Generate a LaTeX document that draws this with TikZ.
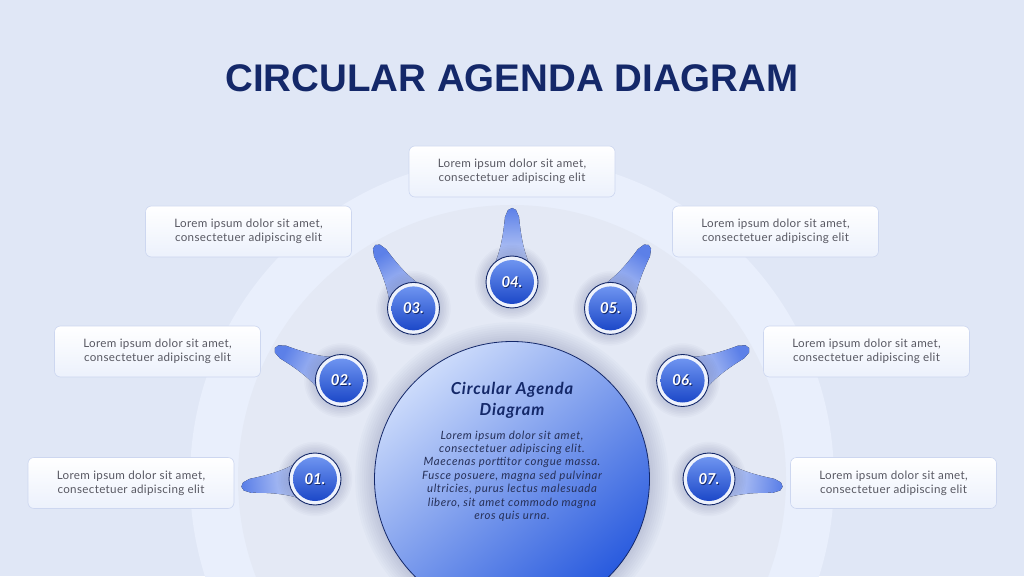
\documentclass[tikz,border=0pt]{standalone}
\usepackage{fontspec}
\setmainfont{Lato}
\newfontfamily\boxfont{Lato}[LetterSpace=3]
\newfontfamily\hubfont{Lato}[LetterSpace=5]
\newfontfamily\titlefont{Liberation Sans}
\usetikzlibrary{positioning}

% colours
\definecolor{pagebg}{RGB}{224,231,246}
\definecolor{bandbg}{RGB}{233,239,252}
\definecolor{innerbg}{RGB}{228,233,245}
\definecolor{navy}{RGB}{20,40,105}
\definecolor{bodygray}{RGB}{88,88,98}
\definecolor{centertext}{RGB}{38,48,88}
\definecolor{boxline}{RGB}{205,215,240}
\definecolor{boxlow}{RGB}{236,241,252}
\definecolor{circlight}{RGB}{204,219,251}
\definecolor{circdeep}{RGB}{40,90,222}
\definecolor{disctop}{RGB}{110,148,240}
\definecolor{disclow}{RGB}{28,72,200}
\definecolor{ringfill}{RGB}{238,242,252}
\definecolor{funblue}{RGB}{92,128,232}
\definecolor{funpale}{RGB}{234,239,252}

\tikzset{
  infobox/.style={draw=boxline, line width=0.6pt, rounded corners=6pt,
    top color=white, bottom color=boxlow, minimum width=206pt,
    minimum height=51pt, inner sep=0pt, align=center, text=bodygray,
    font=\boxfont\fontsize{11.6}{13.8}\selectfont},
  numring/.style={circle, draw=navy, line width=0.9pt, fill=ringfill,
    minimum size=52pt, inner sep=0pt},
  numdisc/.style={circle, top color=disctop, bottom color=disclow,
    minimum size=44pt, inner sep=0pt},
  numtext/.style={font=\fontsize{15}{15}\selectfont\bfseries\itshape, text=white},
  funnel/.style={top color=funblue, middle color=funblue!14!funpale,
    bottom color=funpale},
}

\begin{document}
\begin{tikzpicture}[x=1pt, y=1pt]
  \useasboundingbox (0,0) rectangle (1024,576);
  \fill[pagebg] (0,0) rectangle (1024,576);

  % background half discs
  \coordinate (ctr) at (512,97);
  \fill[bandbg] (ctr) circle (322);
  \fill[innerbg] (ctr) circle (274);

  % bubbles and funnels
  \foreach \i/\a/\t/\num in {1/180/6/01., 2/150/4/02., 3/120/1/03., 4/90/0/04.,
                             5/60/-1/05., 6/30/-4/06., 7/0/-6/07.}{
    \path (ctr) ++(\a:197) coordinate (b\i);
    \pgfmathsetmacro\sa{\a+\t-90}
    \begin{scope}[shift={(b\i)}, rotate=\sa]
      \fill[funnel, shading angle=\sa]
        (-20,0) -- (-25,6) .. controls (-13,20) and (-9,44) .. (-7,65)
        -- (-4,72) -- (0,74) -- (4,72) -- (7,65)
        .. controls (9,44) and (13,20) .. (25,6) -- (20,0) -- cycle;
    \end{scope}
    \foreach \k in {1,...,7}
      \fill[navy, opacity=0.022] (b\i) circle (26+1.6*\k);
    \node[numring] (r\i) at (b\i) {};
    \node[numdisc] (d\i) at (b\i) {};
    \node[numtext, text=navy] (s\i) at ([shift={(0.9,-0.9)}]b\i) {\num};
    \node[numtext] (n\i) at (b\i) {\num};
  }

  % centre circle
  \foreach \k in {1,...,9}
    \fill[navy, opacity=0.018] (ctr) circle (137+2.2*\k);
  \node[circle, draw=navy, line width=0.8pt, minimum size=275pt,
        top color=circlight, bottom color=circdeep, shading angle=40]
        (hub) at (ctr) {};
  \node[align=center, text=navy, font=\hubfont\fontsize{16.5}{21}\selectfont\bfseries\itshape]
        (hubtitle) at (512,176) {Circular Agenda\\Diagram};
  \node[align=center, text=centertext, font=\hubfont\fontsize{11.4}{13.4}\selectfont\itshape]
        (hubbody) at (512,100) {Lorem ipsum dolor sit amet,\\consectetuer adipiscing elit.\\
        Maecenas porttitor congue massa.\\Fusce posuere, magna sed pulvinar\\
        ultricies, purus lectus malesuada\\libero, sit amet commodo magna\\eros quis urna.};

  % text boxes
  \foreach \i/\x/\y in {1/131/93, 2/157.5/224.5, 3/248.5/344.5, 4/512/404.5,
                        5/775.5/344.5, 6/866.5/224.5, 7/893.5/93}
    \node[infobox] (box\i) at (\x,\y) {Lorem ipsum dolor sit amet,\\consectetuer adipiscing elit};

  % title
  \node[text=navy, font=\titlefont\fontsize{38.5}{40}\selectfont\bfseries]
        (title) at (512,498) {CIRCULAR AGENDA DIAGRAM};
\end{tikzpicture}
\end{document}
